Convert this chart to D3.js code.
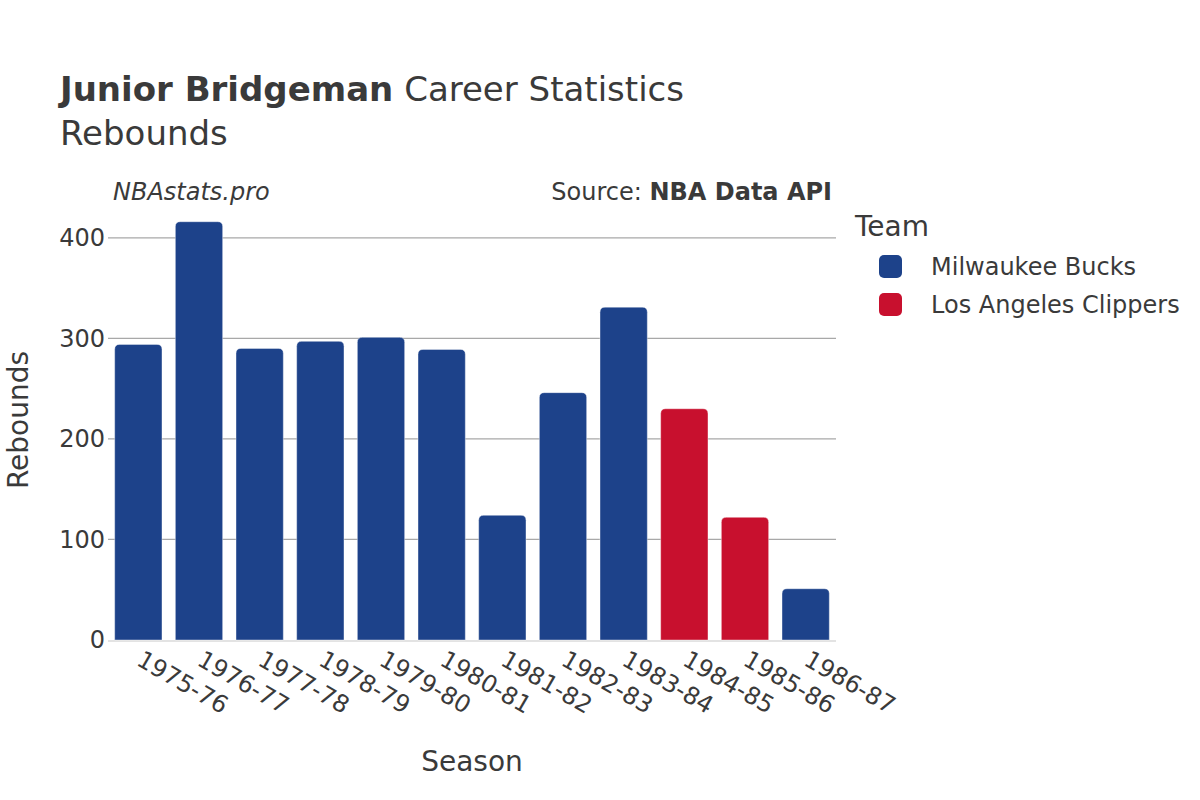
<!DOCTYPE html>
<html><head><meta charset="utf-8">
<script src="https://cdn.jsdelivr.net/npm/d3@7"></script>
<style>body{margin:0;background:#fff;font-family:"DejaVu Sans",sans-serif;}</style>
</head><body>
<svg id="chart" width="1200" height="800"></svg>
<script>
const seasons = ["1975-76","1976-77","1977-78","1978-79","1979-80","1980-81","1981-82","1982-83","1983-84","1984-85","1985-86","1986-87"];
const rebounds = [294,416,290,297,301,289,124,246,331,230,122,51];
const teams = ["Milwaukee Bucks","Milwaukee Bucks","Milwaukee Bucks","Milwaukee Bucks","Milwaukee Bucks","Milwaukee Bucks","Milwaukee Bucks","Milwaukee Bucks","Milwaukee Bucks","Los Angeles Clippers","Los Angeles Clippers","Milwaukee Bucks"];
const legendTeams = ["Milwaukee Bucks","Los Angeles Clippers"];
const teamColors = ["#1d428a","#c8102e"];
const yTicks = [0,100,200,300,400];

(function(){
const svg = d3.select("#chart");
const pLeft = 108, pRight = 836, pBottom = 640;
const x = d3.scaleBand().domain(seasons).range([pLeft,pRight]).paddingInner(0.22).paddingOuter(0.11);
const y = d3.scaleLinear().domain([0,400]).range([pBottom,237.8]);
const color = d3.scaleOrdinal().domain(legendTeams).range(teamColors);
const textColor = "#3a3a3a";

// gridlines
svg.append("g").selectAll("line").data(yTicks.filter(d=>d>0)).join("line")
  .attr("x1",pLeft).attr("x2",pRight).attr("y1",d=>y(d)).attr("y2",d=>y(d))
  .attr("stroke","#a8a8a8").attr("stroke-width",1.2);

// baseline
svg.append("line").attr("x1",pLeft).attr("x2",pRight).attr("y1",pBottom+1).attr("y2",pBottom+1)
  .attr("stroke","#e3e3e3").attr("stroke-width",2);

// bars with rounded top
const r = 5;
function barPath(x0,y0,w,h){
  const rr = Math.min(r,h,w/2);
  return `M${x0},${y0+h}V${y0+rr}Q${x0},${y0} ${x0+rr},${y0}H${x0+w-rr}Q${x0+w},${y0} ${x0+w},${y0+rr}V${y0+h}Z`;
}
const data = seasons.map((s,i)=>({s,v:rebounds[i],t:teams[i]}));
svg.append("g").selectAll("path").data(data).join("path")
  .attr("d",d=>barPath(x(d.s),y(d.v),x.bandwidth(),pBottom-y(d.v)))
  .attr("fill",d=>color(d.t))
  .attr("stroke","rgba(255,255,255,0.5)").attr("stroke-width",0.8);

// y axis labels
svg.append("g").selectAll("text").data(yTicks).join("text")
  .attr("x",105).attr("y",d=>y(d)).attr("dy","0.35em")
  .attr("text-anchor","end").attr("font-size",24).attr("fill",textColor)
  .text(d=>d);

// x axis labels
svg.append("g").selectAll("text").data(seasons).join("text")
  .attr("transform",d=>`translate(${x(d)+x.bandwidth()/2+1},${pBottom+17}) rotate(30)`)
  .attr("dy","0.35em")
  .attr("text-anchor","start").attr("font-size",24).attr("fill",textColor)
  .text(d=>d);

// titles
const t = svg.append("text").attr("x",60).attr("y",101).attr("font-size",34).attr("fill",textColor);
t.append("tspan").attr("font-weight","bold").text("Junior Bridgeman");
t.append("tspan").text(" Career Statistics");
svg.append("text").attr("x",60).attr("y",145).attr("font-size",34).attr("fill",textColor).text("Rebounds");

svg.append("text").attr("x",113).attr("y",200).attr("font-size",24).attr("font-style","italic").attr("fill",textColor).text("NBAstats.pro");
const src = svg.append("text").attr("x",832).attr("y",200).attr("font-size",24).attr("text-anchor","end").attr("fill",textColor);
src.append("tspan").text("Source: ");
src.append("tspan").attr("font-weight","bold").text("NBA Data API");

// axis titles
svg.append("text").attr("transform","translate(18,420) rotate(-90)").attr("text-anchor","middle")
  .attr("dy","0.35em").attr("font-size",28).attr("fill",textColor).text("Rebounds");
svg.append("text").attr("x",472).attr("y",771).attr("text-anchor","middle")
  .attr("font-size",28).attr("fill",textColor).text("Season");

// legend
svg.append("text").attr("x",855).attr("y",236).attr("font-size",28).attr("fill",textColor).text("Team");
const lg = svg.append("g").selectAll("g").data(legendTeams).join("g")
  .attr("transform",(d,i)=>`translate(879,${255+i*38})`);
lg.append("rect").attr("width",23).attr("height",23).attr("rx",5).attr("fill",d=>color(d));
lg.append("text").attr("x",52).attr("y",11.5).attr("dy","0.35em").attr("font-size",24).attr("fill",textColor).text(d=>d);
})();
</script>
</body></html>
